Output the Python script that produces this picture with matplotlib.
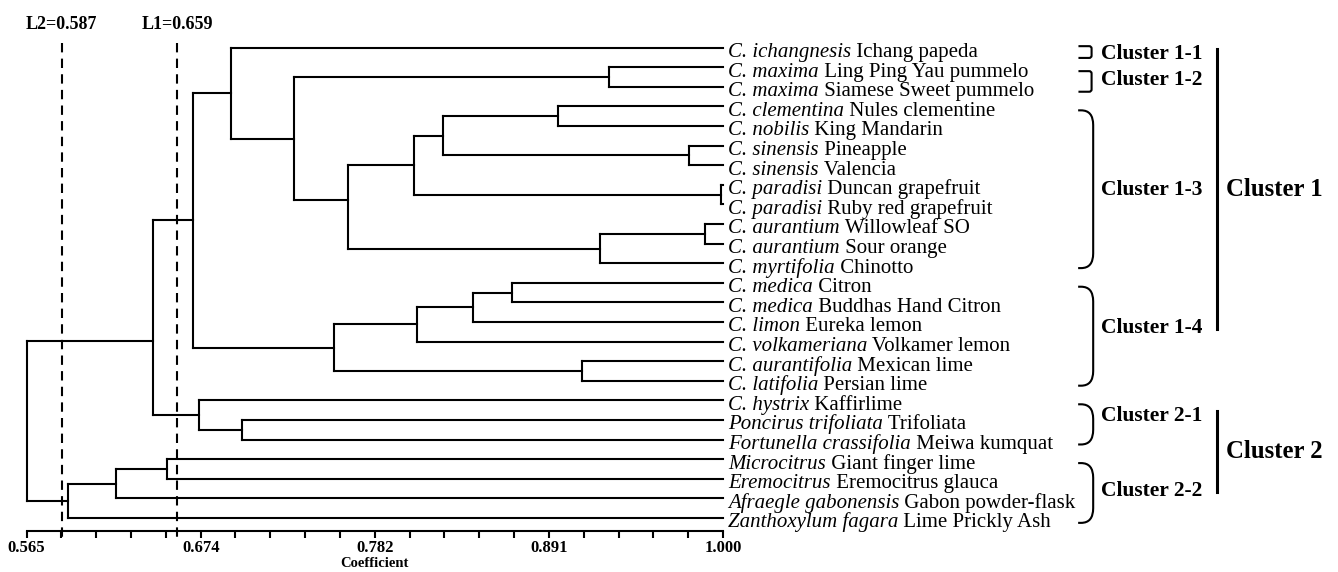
import numpy as np
import matplotlib.pyplot as plt
from matplotlib.path import Path
from matplotlib.patches import PathPatch

plt.rcParams['font.family'] = ['Liberation Serif', 'DejaVu Serif']

# leaves, top to bottom
genus = [
    'C. ichangnesis', 'C. maxima', 'C. maxima', 'C. clementina', 'C. nobilis',
    'C. sinensis', 'C. sinensis', 'C. paradisi', 'C. paradisi', 'C. aurantium',
    'C. aurantium', 'C. myrtifolia', 'C. medica', 'C. medica', 'C. limon',
    'C. volkameriana', 'C. aurantifolia', 'C. latifolia', 'C. hystrix',
    'Poncirus trifoliata', 'Fortunella crassifolia', 'Microcitrus',
    'Eremocitrus', 'Afraegle gabonensis', 'Zanthoxylum fagara',
]
common = [
    'Ichang papeda', 'Ling Ping Yau pummelo', 'Siamese Sweet pummelo',
    'Nules clementine', 'King Mandarin', 'Pineapple', 'Valencia',
    'Duncan grapefruit', 'Ruby red grapefruit', 'Willowleaf SO', 'Sour orange',
    'Chinotto', 'Citron', 'Buddhas Hand Citron', 'Eureka lemon',
    'Volkamer lemon', 'Mexican lime', 'Persian lime', 'Kaffirlime',
    'Trifoliata', 'Meiwa kumquat', 'Giant finger lime', 'Eremocitrus glauca',
    'Gabon powder-flask', 'Lime Prickly Ash',
]

# merges: (child a, child b, coefficient); new nodes numbered from 25 on
merges = [
    (7, 8, 0.999), (9, 10, 0.989), (5, 6, 0.979), (1, 2, 0.929),
    (26, 11, 0.923), (16, 17, 0.912), (3, 4, 0.897), (12, 13, 0.868),
    (32, 14, 0.844), (31, 27, 0.825), (33, 15, 0.809), (34, 25, 0.807),
    (36, 29, 0.766), (35, 30, 0.757), (28, 37, 0.732), (19, 20, 0.6995),
    (0, 39, 0.693), (18, 40, 0.673), (41, 38, 0.669), (21, 22, 0.653),
    (43, 42, 0.644), (44, 23, 0.621), (46, 24, 0.591), (45, 47, 0.565),
]
# where the parent line meets a node (fraction from upper child), default middle
anchor = {37: 0.42, 45: 0.62}

cut_names = ['L2', 'L1']
cut_levels = [0.587, 0.659]

tick_labels = ['0.565', '0.674', '0.782', '0.891', '1.000']

sub_names = ['Cluster 1-1', 'Cluster 1-2', 'Cluster 1-3', 'Cluster 1-4',
             'Cluster 2-1', 'Cluster 2-2']
sub_first = [0, 1, 3, 12, 18, 21]
sub_last = [0, 2, 11, 17, 20, 24]
sub_shift = [0.08, -0.08, 0.05, -0.42, -0.45, -0.08]

main_names = ['Cluster 1', 'Cluster 2']
main_subs = [(0, 3), (4, 5)]

fig = plt.figure(figsize=(13.38, 5.72), dpi=100)
ax = fig.add_axes([26.5 / 1338, 1 - 530.7 / 572, 696.5 / 1338, 500.7 / 572])
ax.set_xlim(0.565, 1.0)
ax.set_ylim(24.65, -0.9)

lw = 1.5
n = len(genus)
ypos = [float(i) for i in range(n)]
hgt = [1.0] * n
for k, (a, b, h) in enumerate(merges):
    node = n + k
    f = anchor.get(node, 0.5)
    ax.plot([h, h], [ypos[a], ypos[b]], color='k', lw=lw,
            solid_capstyle='projecting', clip_on=False)
    for c in (a, b):
        ax.plot([h, hgt[c]], [ypos[c], ypos[c]], color='k', lw=lw,
                solid_capstyle='projecting', clip_on=False)
    ypos.append(ypos[a] + f * (ypos[b] - ypos[a]))
    hgt.append(h)

# cut lines
for name, lev in zip(cut_names, cut_levels):
    ax.plot([lev, lev], [-0.22, 24.95], color='k', lw=1.5,
            ls=(0, (4.5, 3)), clip_on=False)
    ax.text(lev, -0.97, f'{name}={lev:.3f}', ha='center', va='baseline',
            fontsize=13, fontweight='bold')

# axis
for s in ['top', 'left', 'right']:
    ax.spines[s].set_visible(False)
ax.spines['bottom'].set_linewidth(1.5)
ax.set_xticks(np.linspace(0.565, 1.0, 5))
ax.set_xticklabels(tick_labels, fontsize=12, fontweight='bold')
ax.set_xticks(np.linspace(0.565, 1.0, 21), minor=True)
ax.tick_params(axis='x', which='both', direction='out', width=1.5,
               length=4.8, pad=2)
ax.set_yticks([])
ax.set_xlabel('Coefficient', fontsize=10.5, fontweight='bold', labelpad=0.5)

# leaf labels: italic name then plain name
renderer = fig.canvas.get_renderer()
for i, (g, c) in enumerate(zip(genus, common)):
    t = ax.annotate(g, xy=(1.0, i), xytext=(3.6, -6.8),
                    textcoords='offset points', fontsize=15, style='italic',
                    ha='left', va='baseline', annotation_clip=False)
    w = t.get_window_extent(renderer).width * 72 / fig.dpi
    ax.annotate(' ' + c, xy=(1.0, i), xytext=(3.6 + w, -6.8),
                textcoords='offset points', fontsize=15,
                ha='left', va='baseline', annotation_clip=False)


def bracket(top, bottom, x0, x1, rx, ry):
    verts = [(x0, top), (x1 - rx, top), (x1, top), (x1, top + ry),
             (x1, bottom - ry), (x1, bottom), (x1 - rx, bottom), (x0, bottom)]
    codes = [Path.MOVETO, Path.LINETO, Path.CURVE3, Path.CURVE3,
             Path.LINETO, Path.CURVE3, Path.CURVE3, Path.LINETO]
    ax.add_patch(PathPatch(Path(verts, codes), fill=False, ec='k', lw=1.5,
                           clip_on=False))


sub_y = []
for name, f0, f1, sh in zip(sub_names, sub_first, sub_last, sub_shift):
    top, bot = f0 + 0.2, f1 + 0.25
    if bot - top < 0.6:
        mid = (top + bot) / 2
        top, bot = mid - 0.3, mid + 0.3
    if f1 - f0 < 2:
        bracket(top, bot, 1.2220, 1.2302, 0.0015, 0.12)
    else:
        bracket(top, bot, 1.2218, 1.2312, 0.0075, 0.75)
    yl = (top + bot) / 2 + sh
    sub_y.append(yl)
    ax.text(1.2360, yl, name, ha='left', va='center', fontsize=15.5,
            fontweight='bold', clip_on=False)

for name, (s0, s1) in zip(main_names, main_subs):
    top, bot = sub_y[s0] - 0.22, sub_y[s1] + 0.05
    ax.plot([1.3088, 1.3088], [top, bot], color='k', lw=2.2, clip_on=False)
    ax.text(1.3140, (top + bot) / 2, name, ha='left', va='center',
            fontsize=17.8, fontweight='bold', clip_on=False)

fig.savefig('out.png', dpi=100)
